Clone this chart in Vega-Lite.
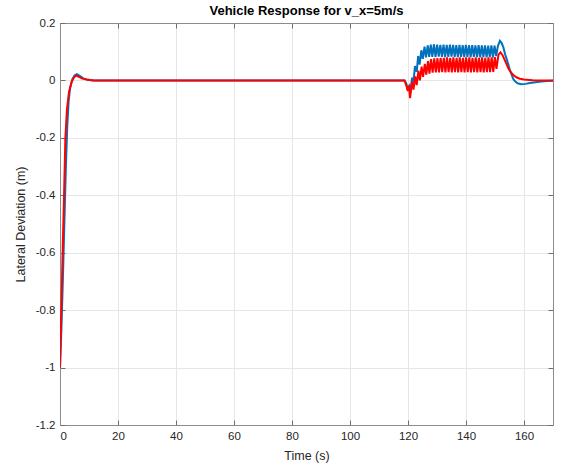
{
  "$schema": "https://vega.github.io/schema/vega-lite/v6.json",
  "autosize": {"type": "none"},
  "padding": {"left": 60, "top": 23, "right": 9, "bottom": 43},
  "width": 493,
  "height": 402,
  "background": "white",
  "title": {
    "text": "Vehicle Response for v_x=5m/s",
    "font": "Liberation Sans",
    "fontSize": 13,
    "fontWeight": "bold",
    "color": "#000000",
    "anchor": "middle",
    "offset": -1
  },
  "config": {
    "view": {"stroke": "#8c8c8c", "strokeWidth": 1},
    "axis": {
      "labelFont": "Liberation Sans",
      "titleFont": "Liberation Sans",
      "labelFontSize": 11.5,
      "titleFontSize": 12.5,
      "titleFontWeight": "normal",
      "labelColor": "#262626",
      "titleColor": "#262626",
      "domainColor": "#8c8c8c",
      "tickColor": "#6e6e6e",
      "gridColor": "#e6e6e6",
      "gridWidth": 1
    }
  },
  "data": {
    "values": [
      {"t": 0, "v": -1.0, "s": "s1"},
      {"t": 0.5, "v": -0.86, "s": "s1"},
      {"t": 1.0, "v": -0.69, "s": "s1"},
      {"t": 1.5, "v": -0.5, "s": "s1"},
      {"t": 2.0, "v": -0.31, "s": "s1"},
      {"t": 2.5, "v": -0.16, "s": "s1"},
      {"t": 3.0, "v": -0.07, "s": "s1"},
      {"t": 3.5, "v": -0.025, "s": "s1"},
      {"t": 4.2, "v": 0.003, "s": "s1"},
      {"t": 5.0, "v": 0.017, "s": "s1"},
      {"t": 5.8, "v": 0.022, "s": "s1"},
      {"t": 6.8, "v": 0.016, "s": "s1"},
      {"t": 8.0, "v": 0.007, "s": "s1"},
      {"t": 9.5, "v": 0.002, "s": "s1"},
      {"t": 11.5, "v": 0, "s": "s1"},
      {"t": 118.8, "v": 0, "s": "s1"},
      {"t": 119.4, "v": -0.01, "s": "s1"},
      {"t": 119.9, "v": -0.03, "s": "s1"},
      {"t": 120.4, "v": -0.02, "s": "s1"},
      {"t": 120.8, "v": -0.045, "s": "s1"},
      {"t": 121.4, "v": 0.01, "s": "s1"},
      {"t": 121.9, "v": -0.005, "s": "s1"},
      {"t": 122.4, "v": 0.05, "s": "s1"},
      {"t": 123.0, "v": 0.03, "s": "s1"},
      {"t": 123.5, "v": 0.085, "s": "s1"},
      {"t": 124.0, "v": 0.055, "s": "s1"},
      {"t": 124.6, "v": 0.105, "s": "s1"},
      {"t": 125.1, "v": 0.075, "s": "s1"},
      {"t": 125.7, "v": 0.118, "s": "s1"},
      {"t": 126.2, "v": 0.08, "s": "s1"},
      {"t": 126.8, "v": 0.122, "s": "s1"},
      {"t": 127.3, "v": 0.082, "s": "s1"},
      {"t": 127.85, "v": 0.125, "s": "s1"},
      {"t": 128.4, "v": 0.082, "s": "s1"},
      {"t": 128.95, "v": 0.126, "s": "s1"},
      {"t": 129.5, "v": 0.081, "s": "s1"},
      {"t": 130.05, "v": 0.125, "s": "s1"},
      {"t": 130.6, "v": 0.083, "s": "s1"},
      {"t": 131.15, "v": 0.124, "s": "s1"},
      {"t": 131.7, "v": 0.082, "s": "s1"},
      {"t": 132.25, "v": 0.125, "s": "s1"},
      {"t": 132.8, "v": 0.081, "s": "s1"},
      {"t": 133.35, "v": 0.124, "s": "s1"},
      {"t": 133.9, "v": 0.082, "s": "s1"},
      {"t": 134.45, "v": 0.125, "s": "s1"},
      {"t": 135.0, "v": 0.083, "s": "s1"},
      {"t": 135.55, "v": 0.124, "s": "s1"},
      {"t": 136.1, "v": 0.082, "s": "s1"},
      {"t": 136.65, "v": 0.123, "s": "s1"},
      {"t": 137.2, "v": 0.081, "s": "s1"},
      {"t": 137.75, "v": 0.124, "s": "s1"},
      {"t": 138.3, "v": 0.082, "s": "s1"},
      {"t": 138.85, "v": 0.123, "s": "s1"},
      {"t": 139.4, "v": 0.081, "s": "s1"},
      {"t": 139.95, "v": 0.124, "s": "s1"},
      {"t": 140.5, "v": 0.082, "s": "s1"},
      {"t": 141.05, "v": 0.123, "s": "s1"},
      {"t": 141.6, "v": 0.081, "s": "s1"},
      {"t": 142.15, "v": 0.123, "s": "s1"},
      {"t": 142.7, "v": 0.082, "s": "s1"},
      {"t": 143.25, "v": 0.122, "s": "s1"},
      {"t": 143.8, "v": 0.081, "s": "s1"},
      {"t": 144.35, "v": 0.123, "s": "s1"},
      {"t": 144.9, "v": 0.08, "s": "s1"},
      {"t": 145.45, "v": 0.122, "s": "s1"},
      {"t": 146.0, "v": 0.081, "s": "s1"},
      {"t": 146.55, "v": 0.122, "s": "s1"},
      {"t": 147.1, "v": 0.08, "s": "s1"},
      {"t": 147.65, "v": 0.121, "s": "s1"},
      {"t": 148.2, "v": 0.081, "s": "s1"},
      {"t": 148.75, "v": 0.122, "s": "s1"},
      {"t": 149.3, "v": 0.08, "s": "s1"},
      {"t": 149.85, "v": 0.121, "s": "s1"},
      {"t": 150.4, "v": 0.085, "s": "s1"},
      {"t": 151.0, "v": 0.12, "s": "s1"},
      {"t": 151.7, "v": 0.138, "s": "s1"},
      {"t": 152.3, "v": 0.13, "s": "s1"},
      {"t": 152.9, "v": 0.115, "s": "s1"},
      {"t": 153.5, "v": 0.09, "s": "s1"},
      {"t": 154.0, "v": 0.075, "s": "s1"},
      {"t": 154.6, "v": 0.055, "s": "s1"},
      {"t": 155.2, "v": 0.034, "s": "s1"},
      {"t": 155.8, "v": 0.018, "s": "s1"},
      {"t": 156.3, "v": 0.005, "s": "s1"},
      {"t": 157.0, "v": -0.004, "s": "s1"},
      {"t": 157.8, "v": -0.01, "s": "s1"},
      {"t": 159.0, "v": -0.013, "s": "s1"},
      {"t": 160.5, "v": -0.012, "s": "s1"},
      {"t": 162.0, "v": -0.009, "s": "s1"},
      {"t": 164.0, "v": -0.006, "s": "s1"},
      {"t": 166.0, "v": -0.004, "s": "s1"},
      {"t": 168.0, "v": -0.002, "s": "s1"},
      {"t": 170.0, "v": -0.001, "s": "s1"},

      {"t": 0, "v": -1.0, "s": "s2"},
      {"t": 0.45, "v": -0.8, "s": "s2"},
      {"t": 0.9, "v": -0.6, "s": "s2"},
      {"t": 1.4, "v": -0.4, "s": "s2"},
      {"t": 1.85, "v": -0.2, "s": "s2"},
      {"t": 2.4, "v": -0.1, "s": "s2"},
      {"t": 3.1, "v": -0.04, "s": "s2"},
      {"t": 4.0, "v": -0.006, "s": "s2"},
      {"t": 4.8, "v": 0.01, "s": "s2"},
      {"t": 5.5, "v": 0.017, "s": "s2"},
      {"t": 6.5, "v": 0.013, "s": "s2"},
      {"t": 7.5, "v": 0.007, "s": "s2"},
      {"t": 9.2, "v": 0.003, "s": "s2"},
      {"t": 11.5, "v": 0, "s": "s2"},
      {"t": 118.8, "v": 0, "s": "s2"},
      {"t": 119.5, "v": -0.02, "s": "s2"},
      {"t": 119.9, "v": -0.036, "s": "s2"},
      {"t": 120.3, "v": -0.018, "s": "s2"},
      {"t": 120.7, "v": -0.062, "s": "s2"},
      {"t": 121.4, "v": -0.004, "s": "s2"},
      {"t": 121.9, "v": -0.032, "s": "s2"},
      {"t": 122.5, "v": 0.014, "s": "s2"},
      {"t": 123.0, "v": -0.016, "s": "s2"},
      {"t": 123.6, "v": 0.034, "s": "s2"},
      {"t": 124.1, "v": 0.0, "s": "s2"},
      {"t": 124.7, "v": 0.048, "s": "s2"},
      {"t": 125.2, "v": 0.012, "s": "s2"},
      {"t": 125.8, "v": 0.058, "s": "s2"},
      {"t": 126.3, "v": 0.02, "s": "s2"},
      {"t": 126.9, "v": 0.067, "s": "s2"},
      {"t": 127.4, "v": 0.024, "s": "s2"},
      {"t": 127.95, "v": 0.074, "s": "s2"},
      {"t": 128.5, "v": 0.027, "s": "s2"},
      {"t": 129.05, "v": 0.077, "s": "s2"},
      {"t": 129.6, "v": 0.028, "s": "s2"},
      {"t": 130.15, "v": 0.078, "s": "s2"},
      {"t": 130.7, "v": 0.028, "s": "s2"},
      {"t": 131.25, "v": 0.079, "s": "s2"},
      {"t": 131.8, "v": 0.029, "s": "s2"},
      {"t": 132.35, "v": 0.079, "s": "s2"},
      {"t": 132.9, "v": 0.028, "s": "s2"},
      {"t": 133.45, "v": 0.08, "s": "s2"},
      {"t": 134.0, "v": 0.029, "s": "s2"},
      {"t": 134.55, "v": 0.079, "s": "s2"},
      {"t": 135.1, "v": 0.028, "s": "s2"},
      {"t": 135.65, "v": 0.08, "s": "s2"},
      {"t": 136.2, "v": 0.029, "s": "s2"},
      {"t": 136.75, "v": 0.079, "s": "s2"},
      {"t": 137.3, "v": 0.028, "s": "s2"},
      {"t": 137.85, "v": 0.08, "s": "s2"},
      {"t": 138.4, "v": 0.029, "s": "s2"},
      {"t": 138.95, "v": 0.079, "s": "s2"},
      {"t": 139.5, "v": 0.028, "s": "s2"},
      {"t": 140.05, "v": 0.08, "s": "s2"},
      {"t": 140.6, "v": 0.029, "s": "s2"},
      {"t": 141.15, "v": 0.08, "s": "s2"},
      {"t": 141.7, "v": 0.028, "s": "s2"},
      {"t": 142.25, "v": 0.079, "s": "s2"},
      {"t": 142.8, "v": 0.029, "s": "s2"},
      {"t": 143.35, "v": 0.08, "s": "s2"},
      {"t": 143.9, "v": 0.028, "s": "s2"},
      {"t": 144.45, "v": 0.079, "s": "s2"},
      {"t": 145.0, "v": 0.029, "s": "s2"},
      {"t": 145.55, "v": 0.08, "s": "s2"},
      {"t": 146.1, "v": 0.028, "s": "s2"},
      {"t": 146.65, "v": 0.079, "s": "s2"},
      {"t": 147.2, "v": 0.029, "s": "s2"},
      {"t": 147.75, "v": 0.08, "s": "s2"},
      {"t": 148.3, "v": 0.029, "s": "s2"},
      {"t": 148.85, "v": 0.08, "s": "s2"},
      {"t": 149.4, "v": 0.03, "s": "s2"},
      {"t": 149.95, "v": 0.081, "s": "s2"},
      {"t": 150.5, "v": 0.04, "s": "s2"},
      {"t": 151.2, "v": 0.09, "s": "s2"},
      {"t": 151.9, "v": 0.098, "s": "s2"},
      {"t": 152.6, "v": 0.088, "s": "s2"},
      {"t": 153.4, "v": 0.07, "s": "s2"},
      {"t": 154.6, "v": 0.042, "s": "s2"},
      {"t": 155.5, "v": 0.028, "s": "s2"},
      {"t": 156.3, "v": 0.019, "s": "s2"},
      {"t": 157.5, "v": 0.01, "s": "s2"},
      {"t": 158.6, "v": 0.006, "s": "s2"},
      {"t": 160.0, "v": 0.003, "s": "s2"},
      {"t": 163.0, "v": 0.001, "s": "s2"},
      {"t": 170.0, "v": 0, "s": "s2"}
    ]
  },
  "layer": [
    {
      "mark": {"type": "line", "strokeWidth": 2, "clip": true},
      "encoding": {
        "x": {
          "field": "t",
          "type": "quantitative",
          "scale": {"domain": [0, 170], "nice": false, "zero": false},
          "axis": {
            "orient": "bottom",
            "values": [0, 20, 40, 60, 80, 100, 120, 140, 160],
            "grid": true,
            "tickSize": -5,
            "labelPadding": 10,
            "title": "Time (s)",
            "titlePadding": 8
          }
        },
        "y": {
          "field": "v",
          "type": "quantitative",
          "scale": {"domain": [-1.2, 0.2], "nice": false, "zero": false},
          "axis": {
            "orient": "left",
            "values": [-1.2, -1.0, -0.8, -0.6, -0.4, -0.2, 0, 0.2],
            "grid": true,
            "tickSize": -5,
            "labelPadding": 10,
            "labelExpr": "datum.value == 0 ? '0' : toString(round(datum.value * 10) / 10)",
            "title": "Lateral Deviation (m)",
            "titlePadding": 8
          }
        },
        "color": {
          "field": "s",
          "type": "nominal",
          "scale": {"domain": ["s1", "s2"], "range": ["#0072BD", "#FF0000"]},
          "legend": null
        }
      }
    },
    {
      "mark": {"type": "line", "opacity": 0},
      "encoding": {
        "x": {
          "field": "t",
          "type": "quantitative",
          "scale": {"domain": [0, 170], "nice": false, "zero": false},
          "axis": {
            "orient": "top",
            "values": [0, 20, 40, 60, 80, 100, 120, 140, 160],
            "grid": false,
            "labels": false,
            "tickSize": -5,
            "title": null
          }
        },
        "y": {
          "field": "v",
          "type": "quantitative",
          "scale": {"domain": [-1.2, 0.2], "nice": false, "zero": false},
          "axis": {
            "orient": "right",
            "values": [-1.2, -1.0, -0.8, -0.6, -0.4, -0.2, 0, 0.2],
            "grid": false,
            "labels": false,
            "tickSize": -5,
            "title": null
          }
        },
        "detail": {"field": "s", "type": "nominal"}
      }
    }
  ],
  "resolve": {"axis": {"x": "independent", "y": "independent"}}
}
